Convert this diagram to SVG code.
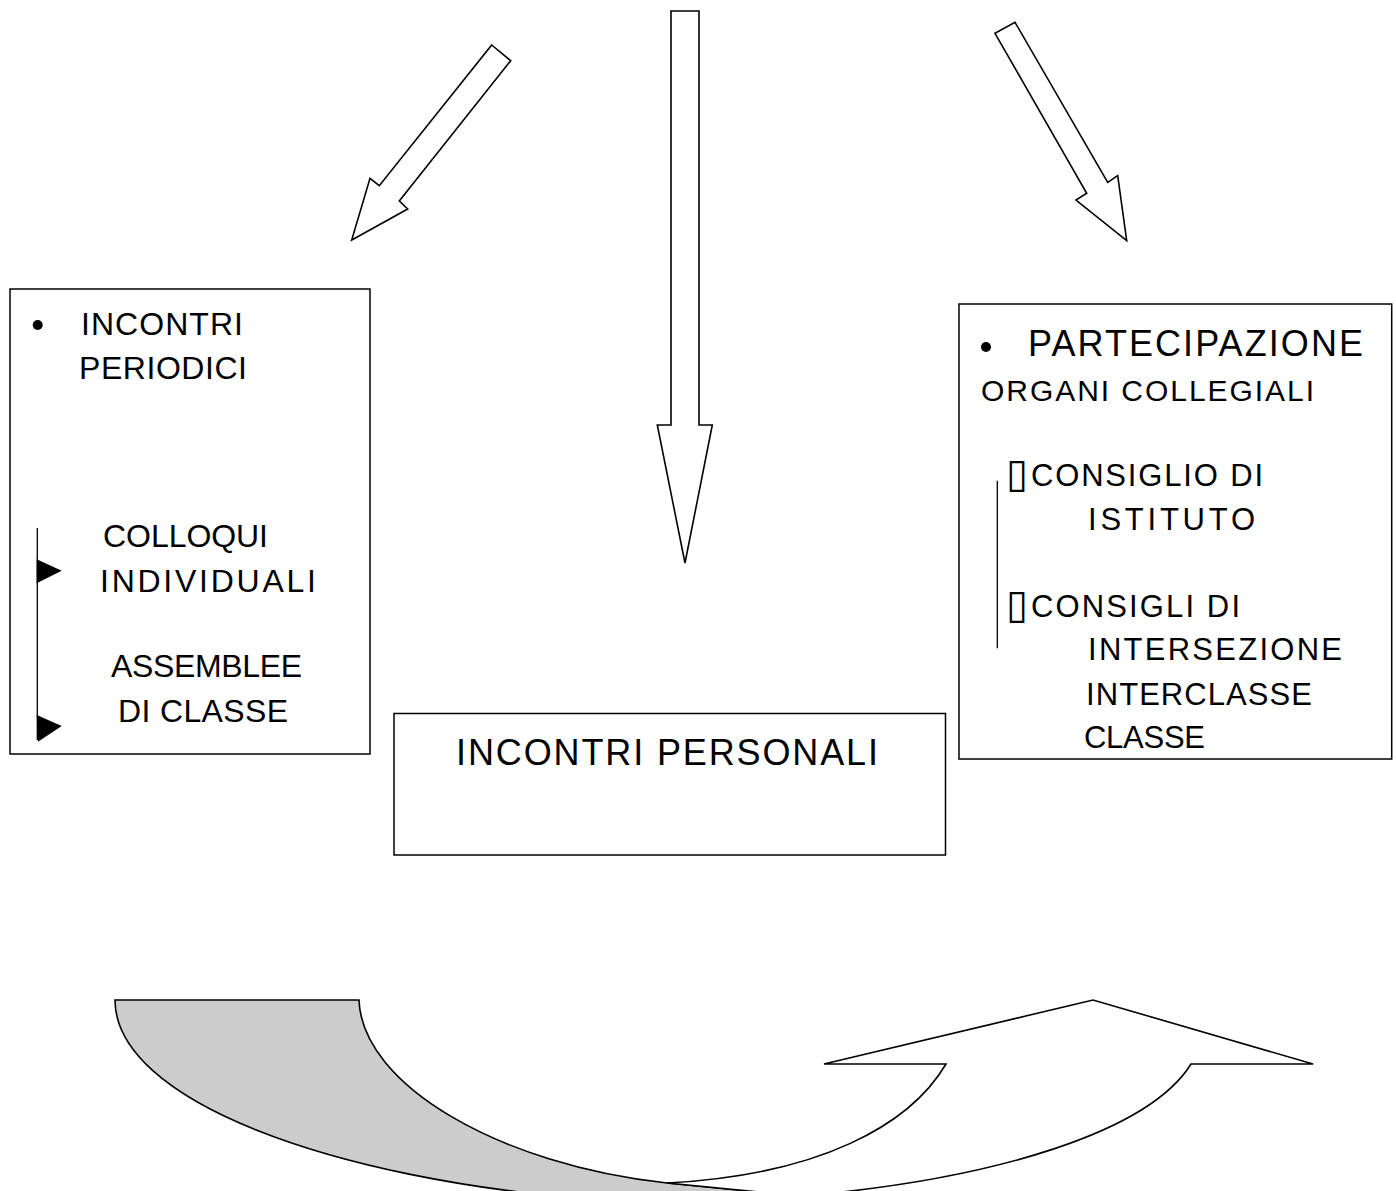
<svg xmlns="http://www.w3.org/2000/svg" width="1396" height="1191" viewBox="0 0 1396 1191">
<style>
.box{fill:#fff;stroke:#000;stroke-width:1.5}
.blk{fill:#fff;stroke:#000;stroke-width:1.6;stroke-linejoin:miter}
.t{font-family:"Liberation Sans",Arial,sans-serif;fill:#000}
.s32{font-size:32px}.s30{font-size:30px}.s31{font-size:31px}.s36{font-size:36px}
.ln{stroke:#000;stroke-width:1.3;fill:none}
.sq{font-family:"DejaVu Sans",sans-serif;font-size:40px;fill:#000}
</style>
<defs>
<clipPath id="clipR"><rect x="959" y="304" width="433" height="446"/></clipPath>
</defs>
<rect width="1396" height="1191" fill="#fff"/>
<g id="connectors">
<polygon class="blk" points="491.7,45 510.7,60.7 399.3,201 407.7,209 351.7,240 370,178.3 379.3,185.7"/>
<polygon class="blk" points="671,11 699,11 699,425 712.3,425 685,563 657.3,425 671,425"/>
<polygon class="blk" points="995,33.3 1015,22.3 1107.7,182.3 1117.7,175.7 1126.7,240.7 1076,200 1086.7,193.3"/>
</g>
<g id="node-left">
<rect class="box" x="10" y="289" width="360" height="465"/>
<circle cx="37.7" cy="325" r="5" fill="#000"/>
<text class="t s32" x="81" y="335" textLength="162" lengthAdjust="spacing">INCONTRI</text>
<text class="t s32" x="79" y="379" textLength="168" lengthAdjust="spacing">PERIODICI</text>
<line class="ln" x1="37.3" y1="528" x2="37.3" y2="740"/>
<polygon points="36.7,559.3 61.7,570.7 36.7,583.3" fill="#000"/>
<polygon points="36.7,715 61.7,726 38,741.7" fill="#000"/>
<text class="t s32" x="103" y="546.7" textLength="165" lengthAdjust="spacing">COLLOQUI</text>
<text class="t s32" x="100" y="591.7" textLength="216" lengthAdjust="spacing">INDIVIDUALI</text>
<text class="t s32" x="111" y="676.7" textLength="191" lengthAdjust="spacing">ASSEMBLEE</text>
<text class="t s32" x="118" y="721.7" textLength="170" lengthAdjust="spacing">DI CLASSE</text>
</g>
<g id="node-center">
<rect class="box" x="394" y="713.5" width="551.5" height="141.5"/>
<text class="t s36" x="456" y="765" textLength="422" lengthAdjust="spacing">INCONTRI PERSONALI</text>
</g>
<g id="node-right">
<rect class="box" x="959" y="304" width="432.7" height="455"/>
<circle cx="986" cy="347" r="5" fill="#000"/>
<text class="t s36" x="1028" y="356" textLength="335" lengthAdjust="spacing">PARTECIPAZIONE</text>
<text class="t s30" x="981" y="401" textLength="333" lengthAdjust="spacing">ORGANI COLLEGIALI</text>
<line class="ln" x1="997.3" y1="480.7" x2="997.3" y2="648.3"/>
<text class="sq" x="1006" y="487">▯</text>
<text class="t s31" x="1031" y="485.7" textLength="232" lengthAdjust="spacing">CONSIGLIO DI</text>
<text class="t s31" x="1088" y="530" textLength="167" lengthAdjust="spacing">ISTITUTO</text>
<text class="sq" x="1006" y="618">▯</text>
<text class="t s31" x="1031" y="616.7" textLength="209" lengthAdjust="spacing">CONSIGLI DI</text>
<text class="t s31" x="1088" y="660" textLength="254" lengthAdjust="spacing">INTERSEZIONE</text>
<text class="t s31" x="1086" y="705" textLength="226" lengthAdjust="spacing">INTERCLASSE</text>
<text class="t s31" x="1084" y="748.3" textLength="121" lengthAdjust="spacing" clip-path="url(#clipR)">CLASSE</text>
</g>
<g id="curved-arrow">
<path d="M115,1000 L359,1000 C362,1085 500,1165 667,1183 L810,1197 L810,1260 L560,1260 L600,1200 C330,1180 115,1100 115,1000 Z" fill="#ccc" stroke="#000" stroke-width="1.6"/>
<path d="M667,1183 C820,1175 910,1125 946,1064 L824,1064 L1093,1000 L1313,1064 L1191,1064 C1150,1130 1000,1180 790,1197 L810,1197 Z" fill="#fff" stroke="#000" stroke-width="1.6" stroke-linejoin="miter"/>
</g>
</svg>
